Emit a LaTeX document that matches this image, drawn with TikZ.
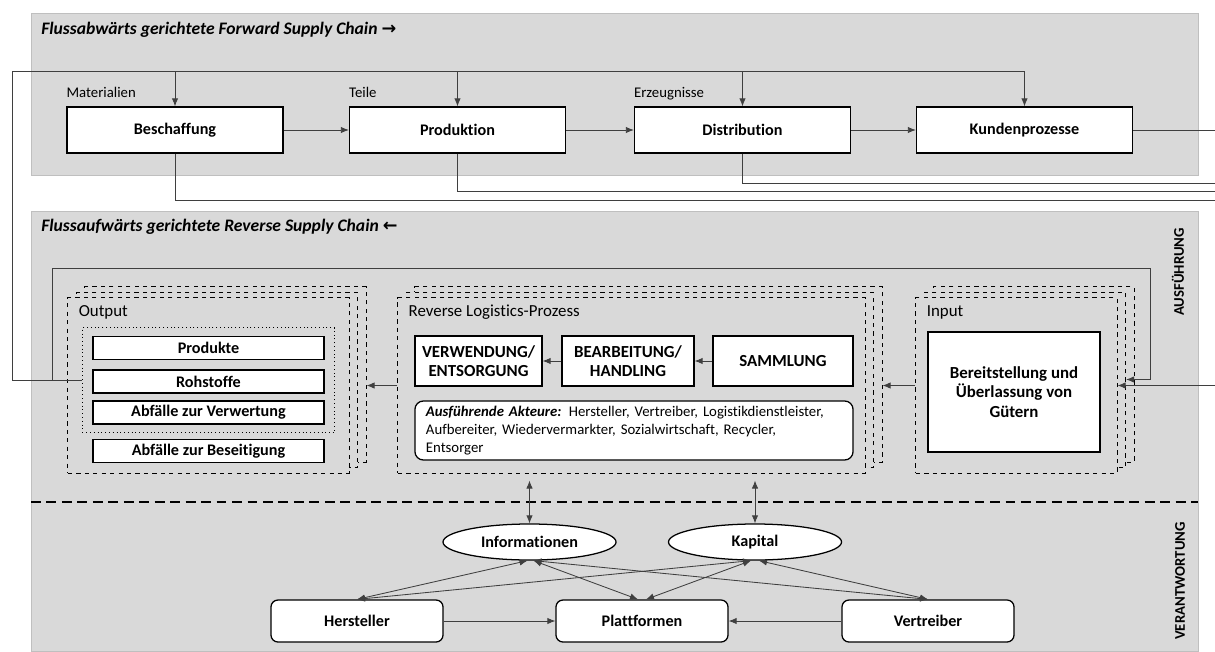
\documentclass[tikz,border=0pt]{standalone}
\usepackage{fontspec}
\setmainfont{Carlito}[Ligatures=NoCommon]
\newfontfamily\arrowfont{DejaVu Sans}
\usetikzlibrary{shapes, arrows.meta, positioning, shadows}
\usetikzlibrary{shapes.geometric, fit}
\definecolor{bandgray}{HTML}{D9D9D9}
\definecolor{bandedge}{HTML}{BFBFBF}
\definecolor{linegray}{HTML}{3F3F3F}

\begin{document}
\begin{tikzpicture}[x=0.025cm, y=-0.025cm,
	box/.style={draw=black, fill=white, line width=0.9pt, font=\fontsize{11.5}{13}\selectfont\bfseries, align=center, inner sep=2pt},
	topbox/.style={box, minimum width=5.4cm, minimum height=1.15cm},
	itembox/.style={box, minimum width=5.775cm, minimum height=0.575cm, font=\fontsize{11.5}{13}\selectfont\bfseries},
	stepbox/.style={box, minimum height=1.25cm, font=\fontsize{12}{14}\selectfont\bfseries},
	actor/.style={box, rounded corners=5pt, minimum width=4.3cm, minimum height=1.05cm},
	resource/.style={box, ellipse, minimum width=4.325cm, minimum height=0.9cm},
	stack/.style={draw=black, dashed, line width=0.7pt, fill=bandgray, minimum height=4.375cm,
		copy shadow={shadow xshift=0.425cm, shadow yshift=0.275cm, fill=bandgray, draw=black, dashed, line width=0.7pt},
		copy shadow={shadow xshift=0.2125cm, shadow yshift=0.1375cm, fill=bandgray, draw=black, dashed, line width=0.7pt}},
	conn/.style={draw=linegray, line width=0.6pt},
	arrow/.style={conn, -{Latex[length=2mm, width=1.6mm]}},
	biarrow/.style={conn, {Latex[length=2mm, width=1.6mm]}-{Latex[length=2mm, width=1.6mm]}},
	label/.style={font=\fontsize{10.5}{12}\selectfont, inner sep=0pt, anchor=base west},
	boxtitle/.style={font=\fontsize{12}{14}\selectfont, anchor=west, inner sep=0pt},
	bandtitle/.style={font=\fontsize{12.5}{14}\selectfont\bfseries\itshape, anchor=west, inner sep=0pt},
	sidetitle/.style={font=\fontsize{10.5}{12}\selectfont\bfseries, rotate=90}]
	\useasboundingbox (0,0) rectangle (1215,651);
	\filldraw[fill=bandgray, draw=bandedge] (31,13) rectangle (1198,175);
	\filldraw[fill=bandgray, draw=bandedge] (31,211) rectangle (1198,651);

	\node[bandtitle] (fwdtitle) at (41,30) {Flussabwärts gerichtete Forward Supply Chain {\arrowfont\bfseries →}};
	\node[topbox] (beschaffung) at (175,130) {Beschaffung};
	\node[topbox] (produktion) at (457.5,130) {Produktion};
	\node[topbox] (distribution) at (742.5,130) {Distribution};
	\node[topbox] (kunden) at (1024.5,130) {Kundenprozesse};
	\node[label] (materialien) at ([yshift=0.225cm]beschaffung.north west) {Materialien};
	\node[label] (teile) at ([yshift=0.225cm]produktion.north west) {Teile};
	\node[label] (erzeugnisse) at ([yshift=0.225cm]distribution.north west) {Erzeugnisse};

	\coordinate (fbleft) at (12,71);
	\coordinate (exit1) at (1215,200);
	\coordinate (exit2) at (1215,191.5);
	\coordinate (exit3) at (1215,183);
	\coordinate (exit4) at (1215,130);
	\coordinate (entry) at (1215,385.5);
	\coordinate (loopl) at (52,268);
	\coordinate (loopr) at (1150,268);

	\draw[arrow] (beschaffung) -- (produktion);
	\draw[arrow] (produktion) -- (distribution);
	\draw[arrow] (distribution) -- (kunden);
	\draw[conn] (beschaffung.south) |- (exit1);
	\draw[conn] (produktion.south) |- (exit2);
	\draw[conn] (distribution.south) |- (exit3);
	\draw[conn] (kunden.east) -- (exit4);

	\node[bandtitle] (revtitle) at (41,227) {Flussaufwärts gerichtete Reverse Supply Chain {\arrowfont\bfseries ←}};
	\node[sidetitle] (ausf) at (1178,272) {AUSFÜHRUNG};
	\node[sidetitle] (verant) at (1180,581) {VERANTWORTUNG};
	\draw[line width=1.4pt, dash pattern=on 7pt off 4pt] (31,502) -- (1198,502);

	\node[stack, minimum width=7.025cm] (outbox) at (208.5,385.5) {};
	\node[stack, minimum width=11.675cm] (rlbox) at (631.5,385.5) {};
	\node[stack, minimum width=5.025cm] (inbox) at (1016.5,385.5) {};
	\node[boxtitle] (outtitle) at ([shift={(0.275cm,-0.375cm)}]outbox.north west) {Output};
	\node[boxtitle] (rltitle) at ([shift={(0.275cm,-0.375cm)}]rlbox.north west) {Reverse Logistics-Prozess};
	\node[boxtitle] (intitle) at ([shift={(0.275cm,-0.375cm)}]inbox.north west) {Input};

	\node[itembox] (produkte) at (208.5,348) {Produkte};
	\node[itembox] (rohstoffe) at (208.5,381.5) {Rohstoffe};
	\node[itembox] (verwertung) at (208.5,412.5) {Abfälle zur Verwertung};
	\node[itembox] (beseitigung) at (208.5,451) {Abfälle zur Beseitigung};
	\node[draw, dotted, line width=0.7pt, inner xsep=0.25cm, inner ysep=0.2cm, fit=(produkte)(verwertung)] (outgroup) {};

	\node[stepbox, minimum width=3.175cm] (verwendung) at (478.5,361) {VERWENDUNG/\\ENTSORGUNG};
	\node[stepbox, minimum width=3.3cm] (bearbeitung) at (628,361) {BEARBEITUNG/\\HANDLING};
	\node[stepbox, minimum width=3.5cm] (sammlung) at (783,361) {SAMMLUNG};
	\draw[arrow] (sammlung) -- (bearbeitung);
	\draw[arrow] (bearbeitung) -- (verwendung);
	\node[box, rounded corners=6pt, font=\fontsize{10.5}{12.8}\selectfont, align=left, text width=10.4cm, inner xsep=0.275cm, minimum height=1.475cm] (akteure) at (634,430.5) {\textbf{\textit{Ausführende Akteure:}} Hersteller, Vertreiber, Logistikdienstleister,\\ Aufbereiter, Wiedervermarkter, Sozialwirtschaft, Recycler,\\ Entsorger};

	\node[box, minimum width=4.3cm, minimum height=3cm, font=\fontsize{12}{13.8}\selectfont\bfseries] (bereit) at (1014,392) {Bereitstellung und\\Überlassung von\\Gütern};

	\draw[arrow] (inbox.west) -- ([xshift=0.425cm]rlbox.east);
	\draw[arrow] (rlbox.west) -- ([xshift=0.425cm]outbox.east);
	\draw[arrow] (entry) -- (inbox.east);
	\draw[arrow] (loopl |- outgroup.west) |- (loopr) |- ([xshift=0.2125cm, yshift=0.15cm]inbox.east);
	\draw[arrow] (outgroup.west) -| (fbleft) -| (kunden.north);
	\draw[arrow] (beschaffung.north |- fbleft) -- (beschaffung.north);
	\draw[arrow] (produktion.north |- fbleft) -- (produktion.north);
	\draw[arrow] (distribution.north |- fbleft) -- (distribution.north);

	\node[resource] (info) at (529.5,542) {Informationen};
	\node[resource] (kapital) at (755,542) {Kapital};
	\node[actor] (hersteller) at (357,621) {Hersteller};
	\node[actor] (plattformen) at (642,621) {Plattformen};
	\node[actor] (vertreiber) at (928,621) {Vertreiber};
	\draw[biarrow, shorten <=0.175cm] (rlbox.south -| info.north) -- (info.north);
	\draw[biarrow, shorten <=0.175cm] (rlbox.south -| kapital.north) -- (kapital.north);
	\draw[arrow] (hersteller) -- (plattformen);
	\draw[arrow] (vertreiber) -- (plattformen);
	\draw[biarrow] (hersteller.north) -- ([xshift=-0.05cm]info.south);
	\draw[biarrow] ([xshift=0.1cm]info.south) -- ([xshift=-0.1cm]plattformen.north);
	\draw[biarrow] ([xshift=0.1cm]info.south) -- (vertreiber.north);
	\draw[biarrow] (hersteller.north) -- ([xshift=-0.1cm]kapital.south);
	\draw[biarrow] ([xshift=-0.1cm]kapital.south) -- ([xshift=0.1cm]plattformen.north);
	\draw[biarrow] ([xshift=0.1cm]kapital.south) -- (vertreiber.north);
\end{tikzpicture}
\end{document}
